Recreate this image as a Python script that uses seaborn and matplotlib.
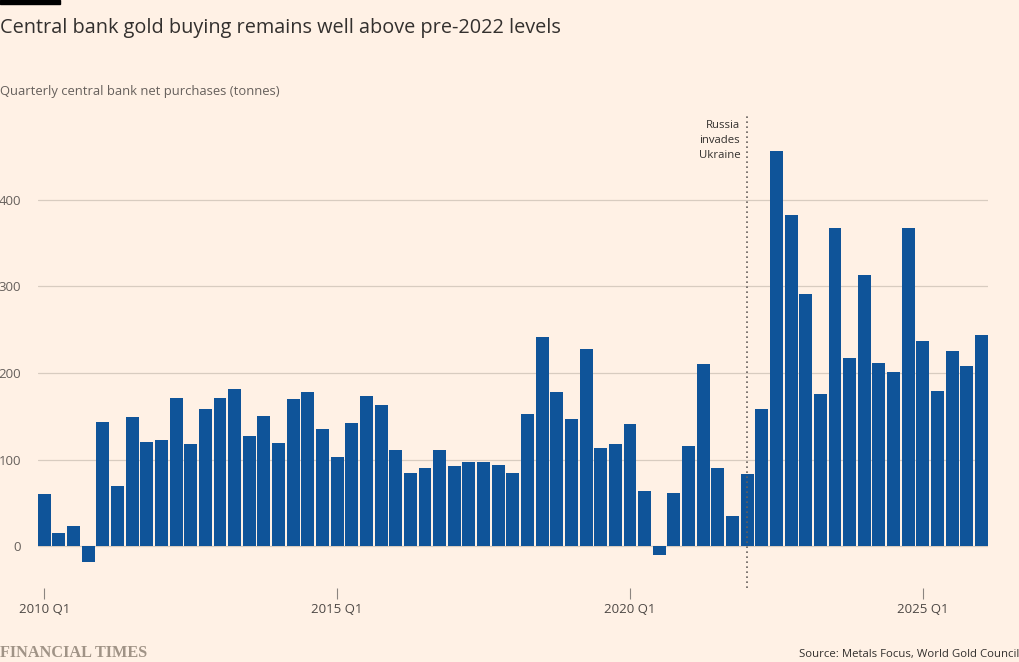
import matplotlib
matplotlib.use("Agg")
import matplotlib.pyplot as plt
import seaborn as sns
import pandas as pd

# ---- data ----
years = list(range(2010, 2027))
quarters = [f"{y} Q{q}" for y in years for q in (1, 2, 3, 4)][:65]
purchases = [
    60, 15, 24, -18, 143, 70, 149, 120, 123, 171, 118, 159, 171, 182, 127, 151,
    119, 170, 178, 136, 103, 142, 173, 163, 111, 85, 90, 111, 93, 97, 97, 94,
    85, 153, 241, 178, 147, 228, 114, 118, 141, 64, -10, 62, 116, 210, 91, 35,
    83, 159, 456, 382, 291, 176, 367, 217, 313, 212, 201, 367, 237, 179, 226, 208,
    244,
]
tick_labels = ["2010 Q1", "2015 Q1", "2020 Q1", "2025 Q1"]
y_ticks = [0, 100, 200, 300, 400]
event_quarter = "2022 Q1"
event_label = "Russia\ninvades\nUkraine"

title = "Central bank gold buying remains well above pre-2022 levels"
subtitle = "Quarterly central bank net purchases (tonnes)"
source = "Source: Metals Focus, World Gold Council"

BG = "#FFF1E5"
BLUE = "#0F5499"
TEXT = "#33302E"
MUTED = "#66605C"
GRID = "#D8CCC0"

sns.set_theme(style="white")
plt.rcParams["font.family"] = ["Open Sans", "DejaVu Sans"]

df = pd.DataFrame({"quarter": quarters, "value": purchases})

fig = plt.figure(figsize=(10.2, 6.62), dpi=100, facecolor=BG)
ax = fig.add_axes([37.7 / 1020, 1 - 588 / 662, (988 - 37.7) / 1020, (588 - 113) / 662])
ax.set_facecolor(BG)

sns.barplot(data=df, x="quarter", y="value", color=BLUE, saturation=1,
            width=0.88, ax=ax, zorder=3, linewidth=0)

ax.set_xlim(-0.45, len(quarters) - 0.55)
ax.set_ylim(-48, 500)

for v in y_ticks:
    ax.axhline(v, color=GRID, lw=0.9, zorder=1)

ax.set_yticks(y_ticks)
ax.set_yticklabels([str(v) for v in y_ticks])
tick_pos = [quarters.index(t) for t in tick_labels]
ax.set_xticks(tick_pos)
ax.set_xticklabels(tick_labels)
ax.tick_params(axis="x", bottom=True, length=8, width=0.8, color="#8C8580", pad=3,
               labelsize=9.5, labelcolor="#4D4845", direction="out")
ax.tick_params(axis="y", left=False, length=0, pad=12, labelsize=9.5, labelcolor=MUTED)
for lab in ax.get_yticklabels():
    lab.set_horizontalalignment("right")
for s in ax.spines.values():
    s.set_visible(False)
ax.set_xlabel("")
ax.set_ylabel("")

ev = quarters.index(event_quarter)
ax.axvline(ev, ymin=0, ymax=1, color="#66605C", lw=1.2, ls=(0, (1, 2)), zorder=4)
ax.annotate(event_label, xy=(ev, 500), xytext=(-5, -5), textcoords="offset points",
            ha="right", va="top", fontsize=8.2, color=TEXT, linespacing=1.5)

# header/footer
fig.patches.append(matplotlib.patches.Rectangle((0, 1 - 4 / 662), 60 / 1020, 4 / 662,
                                                transform=fig.transFigure,
                                                color="black", zorder=10))
fig.text(0, 1 - 28 / 662, title, fontsize=14.35, color=TEXT, va="center", ha="left")
fig.text(0, 1 - 92 / 662, subtitle, fontsize=9.4, color=MUTED, va="center", ha="left")
fig.text(1019 / 1020, 1 - 654 / 662, source, fontsize=8.2, color=TEXT, va="center", ha="right")
fig.text(0, 1 - 653 / 662, "FINANCIAL TIMES", fontsize=11.7, color="#A09386",
         fontweight="bold", family=["Liberation Serif", "DejaVu Serif"],
         va="center", ha="left")

fig.savefig("out.png", dpi=100, facecolor=BG)
